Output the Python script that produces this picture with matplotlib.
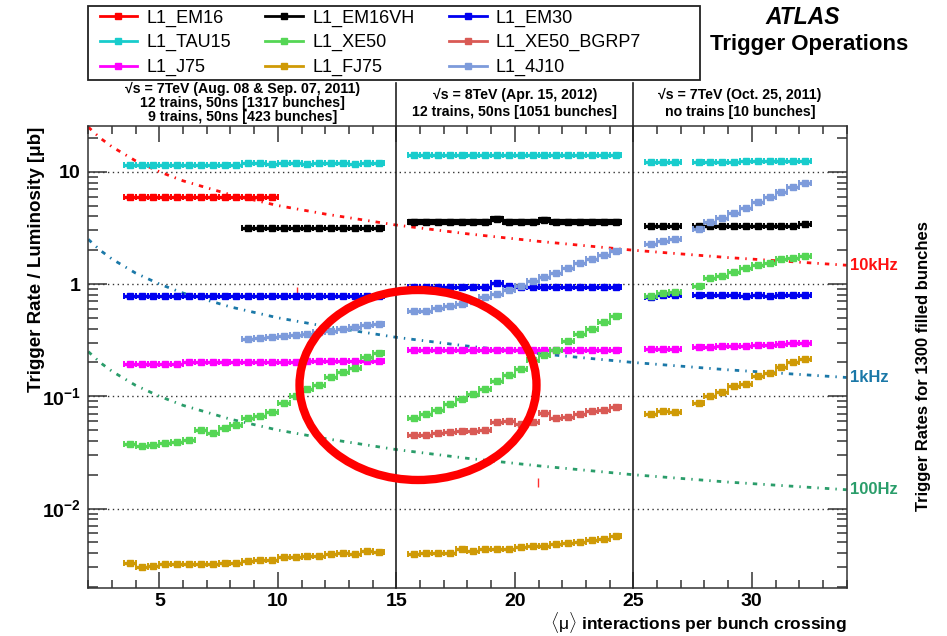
import numpy as np
import matplotlib
matplotlib.use("Agg")
import matplotlib.pyplot as plt
from matplotlib.lines import Line2D
from matplotlib.patches import Ellipse, Rectangle
from matplotlib.ticker import FixedLocator, FixedFormatter, LogLocator, MultipleLocator, NullFormatter
from matplotlib.transforms import blended_transform_factory

plt.rcParams['font.family'] = ['Liberation Sans', 'DejaVu Sans']
plt.rcParams['mathtext.fontset'] = 'custom'
plt.rcParams['mathtext.rm'] = 'Liberation Sans'
plt.rcParams['mathtext.bf'] = 'Liberation Sans:bold'
plt.rcParams['mathtext.it'] = 'Liberation Sans:italic'

# <mu> bin centres for the three fills (bins are 0.5 wide)
bin_half = 0.25
mu_aug = np.arange(3.75, 14.5, 0.5)                      # 2011 Aug/Sep, 22 bins
mu_aug_early = mu_aug[:13]                               # 3.75 .. 9.75
mu_aug_late = mu_aug[10:]                                # 8.75 .. 14.25
mu_apr = np.arange(15.75, 24.5, 0.5)                     # 2012 Apr, 18 bins
mu_oct = np.concatenate([[25.75, 26.25, 26.75], np.arange(27.75, 32.5, 0.5)])  # 2011 Oct, 13 bins

# trigger rate / luminosity [ub]
em16_aug = [6.0, 5.95, 6.0, 6.0, 5.95, 6.0, 6.0, 6.0, 6.0, 6.0, 5.9, 6.0, 6.0]

em16vh_aug = [3.15, 3.15, 3.14, 3.15, 3.15, 3.15, 3.15, 3.15, 3.16, 3.15, 3.16, 3.18]
em16vh_apr = [3.58, 3.58, 3.58, 3.58, 3.58, 3.58, 3.6, 3.78, 3.6, 3.58, 3.58, 3.68,
              3.58, 3.58, 3.58, 3.58, 3.58, 3.58]
em16vh_oct = [3.27, 3.27, 3.27, 3.28, 3.28, 3.3, 3.3, 3.3, 3.3, 3.3, 3.3, 3.32, 3.4]

em30_aug = [0.78, 0.78, 0.78, 0.78, 0.78, 0.78, 0.78, 0.78, 0.78, 0.78, 0.78,
            0.78, 0.78, 0.78, 0.78, 0.78, 0.78, 0.78, 0.78, 0.78, 0.78, 0.78]
em30_apr = [0.94, 0.94, 0.94, 0.94, 0.94, 0.94, 0.94, 1.02, 0.96, 0.94, 0.94, 0.94,
            0.94, 0.94, 0.94, 0.94, 0.94, 0.94]
em30_oct = [0.76, 0.80, 0.80, 0.80, 0.80, 0.80, 0.80, 0.79, 0.80, 0.79, 0.80, 0.80, 0.80]

tau15_aug = [11.5, 11.4, 11.5, 11.5, 11.4, 11.5, 11.5, 11.5, 11.5, 11.6, 11.9,
             11.9, 11.8, 11.9, 11.9, 11.8, 11.9, 11.9, 11.9, 11.8, 11.9, 11.9]
tau15_apr = [14.1, 14.1, 14.1, 14.1, 14.1, 14.1, 14.1, 14.1, 14.1, 14.1, 14.1, 14.1,
             14.1, 14.1, 14.1, 14.1, 14.1, 14.1]
tau15_oct = [12.1, 12.1, 12.1, 12.1, 12.1, 12.1, 12.3, 12.4, 12.4, 12.4, 12.4, 12.4, 12.4]

xe50_aug = [0.0376, 0.036, 0.0365, 0.038, 0.039, 0.041, 0.050, 0.047, 0.052, 0.055, 0.064,
            0.067, 0.072, 0.087, 0.100, 0.115, 0.127, 0.15, 0.165, 0.18, 0.225, 0.245]
xe50_apr = [0.064, 0.070, 0.076, 0.086, 0.094, 0.105, 0.117, 0.138, 0.155, 0.175, 0.21,
            0.235, 0.26, 0.31, 0.36, 0.40, 0.46, 0.52]
xe50_oct = [0.79, 0.83, 0.85, 0.96, 1.12, 1.19, 1.29, 1.40, 1.48, 1.55, 1.66, 1.72, 1.78]

xe50_bgrp7_apr = [0.0455, 0.0455, 0.047, 0.048, 0.049, 0.0495, 0.0505, 0.0586, 0.060,
                  0.0567, 0.0586, 0.071, 0.064, 0.066, 0.0697, 0.0735, 0.076, 0.080]

j75_aug = [0.195, 0.195, 0.195, 0.195, 0.195, 0.2, 0.2, 0.2, 0.2, 0.2, 0.2,
           0.2, 0.2, 0.2, 0.2, 0.205, 0.205, 0.205, 0.205, 0.207, 0.208, 0.208]
j75_apr = [0.258, 0.258, 0.26, 0.26, 0.26, 0.26, 0.26, 0.26, 0.26, 0.26, 0.26, 0.26,
           0.26, 0.26, 0.26, 0.26, 0.26, 0.26]
j75_oct = [0.262, 0.262, 0.262, 0.275, 0.277, 0.278, 0.28, 0.283, 0.285, 0.288, 0.292, 0.297, 0.30]

fj75_aug = [0.0033, 0.0030, 0.0031, 0.0032, 0.0032, 0.0032, 0.0032, 0.0032, 0.0033, 0.0033, 0.0034,
            0.0035, 0.0035, 0.0037, 0.0037, 0.0038, 0.0038, 0.0039, 0.0040, 0.0039, 0.0042, 0.0041]
fj75_apr = [0.00396, 0.0040, 0.0040, 0.0040, 0.0044, 0.0042, 0.0044, 0.0044, 0.0044,
            0.00455, 0.0046, 0.0046, 0.0048, 0.0049, 0.0050, 0.0052, 0.0054, 0.0057]
fj75_oct = [0.070, 0.0735, 0.072, 0.087, 0.100, 0.109, 0.124, 0.129, 0.153, 0.162, 0.182, 0.202, 0.216]

j4_10_aug = [0.325, 0.328, 0.336, 0.345, 0.352, 0.362, 0.373, 0.385, 0.398, 0.413, 0.43, 0.44]
j4_10_apr = [0.57, 0.58, 0.61, 0.64, 0.67, 0.70, 0.76, 0.82, 0.88, 0.96, 1.06, 1.15,
             1.25, 1.40, 1.55, 1.68, 1.82, 1.95]
j4_10_oct = [2.25, 2.4, 2.5, 3.12, 3.58, 3.84, 4.25, 4.8, 5.4, 6.0, 6.6, 7.35, 7.9]

# lines of constant rate for 1300 filled bunches
rate_mu = [2.0, 2.5, 3, 4, 5, 6, 8, 10, 12, 15, 18, 21, 25, 29, 34]
rate_10khz = [25, 20, 16.7, 12.5, 10, 8.3, 6.25, 5.0, 4.2, 3.35, 2.8, 2.4, 2.0, 1.72, 1.47]
rate_1khz = [2.5, 2.0, 1.67, 1.25, 1.0, 0.83, 0.625, 0.5, 0.42, 0.335, 0.28, 0.24, 0.20, 0.172, 0.147]
rate_100hz = [0.25, 0.2, 0.167, 0.125, 0.1, 0.083, 0.0625, 0.05, 0.042, 0.0335, 0.028, 0.024,
              0.02, 0.0172, 0.0147]

# two stray error bars
stray_mu = [10.8, 20.96]
stray_lo = [0.81, 0.0155]
stray_hi = [0.94, 0.0188]

colors = {
    'L1_EM16': '#ff0000', 'L1_EM16VH': '#000000', 'L1_EM30': '#0000f0',
    'L1_TAU15': '#18cccc', 'L1_XE50': '#55d655', 'L1_XE50_BGRP7': '#d95a55',
    'L1_J75': '#ff00ff', 'L1_FJ75': '#cf9a06', 'L1_4J10': '#7d9bdb',
}

fig = plt.figure(figsize=(9.47, 6.36), dpi=100)
ax = fig.add_axes([0.0932, 0.0759, 0.8008, 0.7267])


def draw(mu, vals, name, lw=2.4, ms=4.0):
    ax.errorbar(mu, vals, xerr=bin_half, fmt='s', color=colors[name], mec=colors[name],
                ms=ms, elinewidth=lw, capsize=2.5, capthick=1.4, zorder=3)


draw(mu_aug, tau15_aug, 'L1_TAU15')
draw(mu_apr, tau15_apr, 'L1_TAU15')
draw(mu_oct, tau15_oct, 'L1_TAU15')
draw(mu_aug_early, em16_aug, 'L1_EM16')
draw(mu_aug_late, em16vh_aug, 'L1_EM16VH')
draw(mu_apr, em16vh_apr, 'L1_EM16VH', lw=4.5, ms=4.5)
draw(mu_oct, em16vh_oct, 'L1_EM16VH')
draw(mu_aug, em30_aug, 'L1_EM30')
draw(mu_apr, em30_apr, 'L1_EM30')
draw(mu_oct, em30_oct, 'L1_EM30')
draw(mu_aug_late, j4_10_aug, 'L1_4J10')
draw(mu_apr, j4_10_apr, 'L1_4J10')
draw(mu_oct, j4_10_oct, 'L1_4J10')
draw(mu_aug, j75_aug, 'L1_J75')
draw(mu_apr, j75_apr, 'L1_J75')
draw(mu_oct, j75_oct, 'L1_J75')
draw(mu_aug, xe50_aug, 'L1_XE50')
draw(mu_apr, xe50_apr, 'L1_XE50')
draw(mu_oct, xe50_oct, 'L1_XE50')
draw(mu_apr, xe50_bgrp7_apr, 'L1_XE50_BGRP7')
draw(mu_aug, fj75_aug, 'L1_FJ75')
draw(mu_apr, fj75_apr, 'L1_FJ75')
draw(mu_oct, fj75_oct, 'L1_FJ75')

ax.vlines(stray_mu, stray_lo, stray_hi, color='#ff3030', lw=1.0, zorder=3)

# constant-rate curves
dashdot = (0, (1.6, 2.2, 0.5, 2.2))
rate_lines = [(rate_10khz, '#ff1010', '10kHz'), (rate_1khz, '#1a78a8', '1kHz'),
              (rate_100hz, '#2a9d6a', '100Hz')]
lab_tr = blended_transform_factory(ax.transAxes, ax.transData)
for vals, c, lab in rate_lines:
    ax.plot(rate_mu, vals, color=c, lw=2.0, ls=dashdot, zorder=2)
    ax.text(1.004, vals[-1], lab, transform=lab_tr, color=c, fontsize=12,
            fontweight='bold', ha='left', va='center')

ax.set_yscale('log')
ax.set_xlim(2, 34)
ax.set_ylim(0.00197, 25.8)

ax.set_xticks([5, 10, 15, 20, 25, 30])
ax.xaxis.set_minor_locator(MultipleLocator(1))
ax.set_xticklabels(['5', '10', '15', '20', '25', '30'], fontsize=14, fontweight='bold')
ax.yaxis.set_major_locator(FixedLocator([0.01, 0.1, 1, 10]))
ax.yaxis.set_major_formatter(FixedFormatter([r'$\mathbf{10^{-2}}$', r'$\mathbf{10^{-1}}$',
                                             r'$\mathbf{1}$', r'$\mathbf{10}$']))
ax.yaxis.set_minor_locator(LogLocator(base=10, subs=np.arange(2, 10)))
ax.yaxis.set_minor_formatter(NullFormatter())
for lbl in ax.get_yticklabels():
    lbl.set_fontsize(14)

ax.tick_params(which='both', direction='in', top=True, right=True, width=1.1, color='#333333')
ax.tick_params(axis='x', which='major', length=11.5, pad=4)
ax.tick_params(axis='x', which='minor', length=5.8)
ax.tick_params(axis='y', which='major', length=14, pad=5)
ax.tick_params(axis='y', which='minor', length=7)
for sp in ax.spines.values():
    sp.set_linewidth(1.1)
    sp.set_color('#333333')

ax.yaxis.grid(True, which='major', linestyle=(0, (1, 2.5)), color='#333333', lw=1.0)

# run separators, running up into the header band
for xsep in [15, 25]:
    ax.plot([xsep, xsep], [0, 1.092], transform=ax.get_xaxis_transform(), color='#222222',
            lw=1.2, clip_on=False, zorder=4)

hdr = ax.get_xaxis_transform()
hkw = dict(transform=hdr, ha='center', va='center', fontsize=10.2, fontweight='bold')
ax.text(8.5, 1.0785, '√s = 7TeV (Aug. 08 & Sep. 07, 2011)', **hkw)
ax.text(8.5, 1.0490, '12 trains, 50ns [1317 bunches]', **hkw)
ax.text(8.5, 1.0195, '9 trains, 50ns [423 bunches]', **hkw)
ax.text(20, 1.066, '√s = 8TeV (Apr. 15, 2012)', **hkw)
ax.text(20, 1.0299, '12 trains, 50ns [1051 bunches]', **hkw)
ax.text(29.5, 1.066, '√s = 7TeV (Oct. 25, 2011)', **hkw)
ax.text(29.5, 1.0299, 'no trains [10 bunches]', **hkw)

fig.text(0.039, 0.80, 'Trigger Rate / Luminosity [μb]', rotation=90, ha='center', va='top',
         fontsize=13.5, fontweight='bold')
fig.text(0.975, 0.425, 'Trigger Rates for 1300 filled bunches', rotation=90, ha='center',
         va='center', fontsize=12, fontweight='bold')
fig.text(0.894, 0.0205, r'$\langle\mathrm{\mu}\rangle$ interactions per bunch crossing',
         ha='right', va='center', fontsize=12.5, fontweight='bold')

fig.text(0.848, 0.972, 'ATLAS', ha='center', va='center', fontsize=16.5, fontweight='bold',
         style='italic')
fig.text(0.854, 0.930, 'Trigger Operations', ha='center', va='center', fontsize=16,
         fontweight='bold')

# legend in column order, boxed separately
order = ['L1_EM16', 'L1_TAU15', 'L1_J75', 'L1_EM16VH', 'L1_XE50', 'L1_FJ75',
         'L1_EM30', 'L1_XE50_BGRP7', 'L1_4J10']
handles = [Line2D([], [], color=colors[n], marker='s', ms=4, lw=2) for n in order]
fig.legend(handles, order, loc='upper left', bbox_to_anchor=(95 / 947, 1 - 5 / 636),
           ncol=3, fontsize=13, frameon=False, handlelength=2.1, handletextpad=0.5,
           labelspacing=0.42, borderpad=0.25, borderaxespad=0.0, columnspacing=1.9)
fig.patches.append(Rectangle((88.3 / 947, 1 - 80 / 636), (700 - 88.3) / 947, 74 / 636,
                             transform=fig.transFigure, fill=False, ec='#222222', lw=1.3))

# highlight ring
fig.patches.append(Ellipse((418 / 947, 1 - 385 / 636), 237 / 947, 190 / 636,
                           transform=fig.transFigure, fill=False, ec='#ff0000', lw=6,
                           zorder=10))

fig.savefig('out.png', dpi=100)
